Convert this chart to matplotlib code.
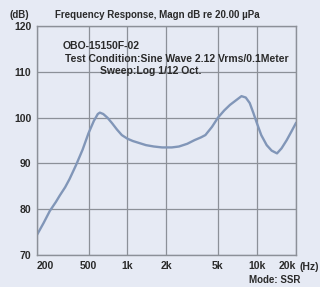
import matplotlib
matplotlib.use("Agg")
import matplotlib.pyplot as plt

# frequency response (Hz, dB)
freq = [200, 225, 251, 280, 300, 330, 357, 400, 450, 500, 550, 590, 612, 650,
        700, 760, 830, 904, 1000, 1100, 1220, 1390, 1600, 1850, 2200, 2500,
        2900, 3300, 3700, 4000, 4500, 5000, 5600, 6200, 6900, 7600, 8200, 8800,
        9400, 10000, 10800, 11900, 13000, 14300, 15500, 17000, 18500, 20000]
spl = [74.4, 77.0, 79.6, 81.6, 83.0, 84.8, 86.6, 89.6, 93.0, 96.6, 99.3,
       100.8, 101.1, 100.8, 100.0, 98.8, 97.4, 96.2, 95.4, 94.9, 94.5, 94.0,
       93.7, 93.5, 93.5, 93.7, 94.3, 95.1, 95.7, 96.2, 98.0, 100.0, 101.6,
       102.8, 103.8, 104.7, 104.4, 103.2, 101.0, 98.8, 96.2, 94.0, 92.8, 92.2,
       93.3, 95.1, 97.0, 98.8]

xticks = [200, 500, 1000, 2000, 5000, 10000, 20000]
xlabels = ["200", "500", "1k", "2k", "5k", "10k", "20k"]
yticks = [70, 80, 90, 100, 110, 120]

bg = "#e6eaf4"
ink = "#2a2a2a"
plt.rcParams["font.family"] = ["Liberation Sans", "DejaVu Sans"]

fig = plt.figure(figsize=(3.2, 2.87), dpi=100, facecolor=bg)
ax = fig.add_axes([0.1156, 0.1115, 0.809, 0.7975])
ax.set_facecolor(bg)

ax.plot(freq, spl, color="#8196b8", lw=1.7, solid_joinstyle="round")

ax.set_xscale("log")
ax.set_xlim(200, 20000)
ax.set_ylim(70, 120)
ax.set_xticks(xticks)
ax.set_xticklabels(xlabels)
ax.xaxis.set_minor_locator(matplotlib.ticker.NullLocator())
ax.set_yticks(yticks)
ax.grid(True, color="#8c9098", lw=0.9)
ax.tick_params(length=0, labelsize=7.5, colors=ink, pad=4)
for lab in ax.get_xticklabels() + ax.get_yticklabels():
    lab.set_fontweight("bold")
for s in ax.spines.values():
    s.set_color("#8c9098")
    s.set_linewidth(1.0)

labs = ax.get_xticklabels()
labs[0].set_horizontalalignment("left")
labs[-1].set_horizontalalignment("right")

txt = dict(fontsize=7.5, color=ink, fontweight="bold", va="center", ha="left")
fig.text(10 / 320, 1 - 15 / 287, "(dB)", fontsize=7, color=ink, fontweight="bold", va="center", ha="left")
fig.text(55 / 320, 1 - 15 / 287, "Frequency Response, Magn dB re 20.00 \u00b5Pa",
         fontsize=7.0, color=ink, fontweight="bold", va="center", ha="left")
fig.text(63 / 320, 1 - 46 / 287, "OBO-15150F-02", **txt)
fig.text(65 / 320, 1 - 59 / 287, "Test Condition:Sine Wave 2.12 Vrms/0.1Meter", **txt)
fig.text(100 / 320, 1 - 71 / 287, "Sweep:Log 1/12 Oct.", **txt)
fig.text(300 / 320, 1 - 267 / 287, "(Hz)", fontsize=7.5, color=ink, fontweight="bold", va="center", ha="left")
fig.text(300 / 320, 1 - 280 / 287, "Mode: SSR", fontsize=7, color=ink, fontweight="bold", va="center", ha="right")

fig.savefig("out.png", dpi=100, facecolor=bg)
